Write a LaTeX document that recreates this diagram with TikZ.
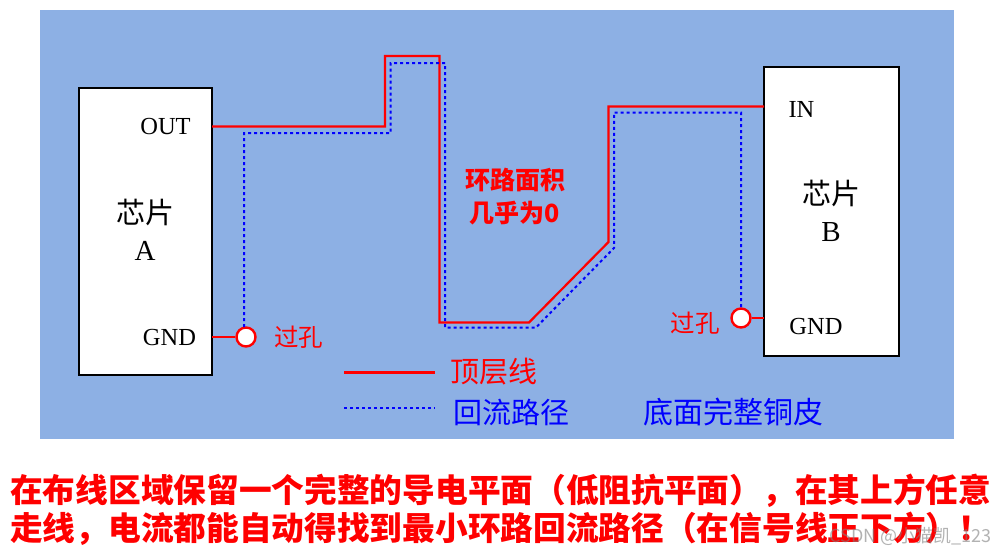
\documentclass[tikz,border=0pt]{standalone}
\usepackage{fontspec}
\setmainfont{Liberation Serif}
\newfontfamily\cjk{Noto Sans CJK SC}
\definecolor{bgblue}{RGB}{141,176,228}
\definecolor{sigred}{RGB}{255,0,0}
\definecolor{retblue}{RGB}{0,0,255}
\tikzset{
  x=1pt,y=-1pt,
  chip/.style={draw=black,line width=2.5pt,fill=white,inner sep=0pt,outer sep=0pt,anchor=north west},
  via/.style={circle,draw=sigred,line width=2.4pt,fill=white,minimum size=19pt,inner sep=0pt},
  topline/.style={draw=sigred,line width=2.2pt,line join=miter},
  retline/.style={draw=retblue,line width=2pt,dash pattern=on 3pt off 3pt},
  lat/.style={inner sep=0pt,font=\fontsize{24.5pt}{26pt}\selectfont,text=black},
  big/.style={inner sep=0pt,font=\cjk\fontsize{29pt}{31pt}\selectfont},
  redlab/.style={inner sep=0pt,text=sigred,font=\cjk\fontsize{24.5pt}{26pt}\selectfont},
  boldlab/.style={inner sep=0pt,text=sigred,font=\cjk\bfseries\fontsize{25pt}{33pt}\selectfont,align=center},
  note/.style={inner sep=0pt,anchor=west,text=sigred,font=\cjk\bfseries\fontsize{32.7pt}{34pt}\selectfont},
}
\begin{document}
\begin{tikzpicture}
\useasboundingbox (0,0) rectangle (995,554);
\fill[white] (0,0) rectangle (995,554);
\fill[bgblue] (40,10) rectangle (954,439);
\node[chip,minimum width=133pt,minimum height=287pt] (chipA) at (79,88) {};
\node[chip,minimum width=135pt,minimum height=289pt] (chipB) at (764,67) {};
\coordinate (outp) at (212,126.5);
\coordinate (inp) at (764,106.5);
\node[via] (viaA) at (246,337) {};
\node[via] (viaB) at (741,318) {};
\coordinate (retA) at (244,327);
\coordinate (retB) at (741,308);
% top-layer trace
\draw[topline] (outp) -- (385,126.5) -- (385,56) -- (439.5,56) -- (439.5,322.5) -- (529,322.5) -- (608.5,242) -- (608.5,106.5) -- (inp);
\draw[topline] (chipA.east |- viaA) -- (viaA);
\draw[topline] (viaB) -- (chipB.west |- viaB);
% return path
\draw[retline] (retA) -- (244,133) -- (390.5,133) -- (390.5,63) -- (445,63) -- (445,327.5) -- (536,327.5) -- (614,248) -- (614,112.5) -- (741,112.5) -- (retB);
% labels
\node[lat] (lOut) at (165.5,127) {OUT};
\node[lat] (lGndA) at (169.5,338) {GND};
\node[lat] (lIn) at (801.5,109) {IN};
\node[lat] (lGndB) at (816,327) {GND};
\node[big] (lA1) at (145,212) {芯片};
\node[lat,font=\fontsize{29pt}{31pt}\selectfont] (lA2) at (145,251) {A};
\node[big] (lB1) at (831,193) {芯片};
\node[lat,font=\fontsize{29pt}{31pt}\selectfont] (lB2) at (831,232) {B};
\node[redlab] (vA) at (298.5,337) {过孔};
\node[redlab] (vB) at (695,323) {过孔};
\node[boldlab] (loop) at (515,196.5) {环路面积\\几乎为0};
% legend
\coordinate (l1a) at (344,372.5); \coordinate (l1b) at (435,372.5);
\coordinate (l2a) at (344,408); \coordinate (l2b) at (435,408);
\draw[topline] (l1a) -- (l1b);
\draw[retline] (l2a) -- (l2b);
\node[big,text=sigred] (t1) at (493.5,372) {顶层线};
\node[big,text=retblue] (t2) at (511,412) {回流路径};
\node[big,text=retblue,font=\cjk\fontsize{30pt}{32pt}\selectfont] (t3) at (733,412) {底面完整铜皮};
% note
\node[note] (n1) at (10,491) {在布线区域保留一个完整的导电平面（低阻抗平面），在其上方任意};
\node[note] (n2) at (10,529) {走线，电流都能自动得找到最小环路回流路径（在信号线正下方）！};
\node[inner sep=0pt,anchor=east,text=gray,opacity=.6,font=\cjk\fontsize{18pt}{20pt}\selectfont] (wm) at (992,536) {CSDN @小猫凯\_123};
\end{tikzpicture}
\end{document}
